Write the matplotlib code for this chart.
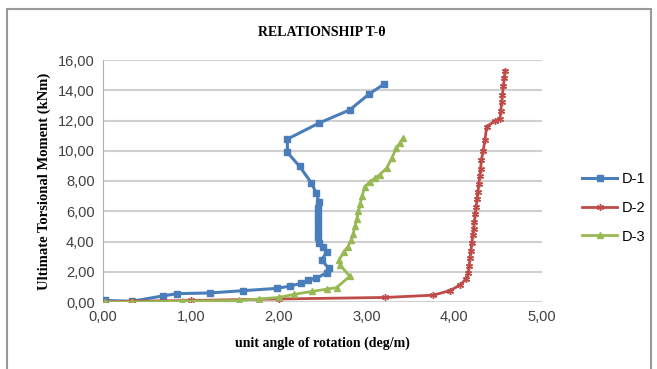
import matplotlib.pyplot as plt
from matplotlib.patches import Rectangle

# --- data ---
d1_x = [0.02, 0.33, 0.68, 0.84, 1.22, 1.60, 1.98, 2.13, 2.26, 2.34, 2.43, 2.55, 2.57, 2.49,
        2.55, 2.51, 2.46, 2.45, 2.45, 2.45, 2.45, 2.45, 2.45, 2.46, 2.43, 2.37, 2.24, 2.10,
        2.10, 2.46, 2.81, 3.03, 3.20]
d1_y = [0.10, 0.05, 0.40, 0.55, 0.60, 0.75, 0.90, 1.05, 1.24, 1.46, 1.57, 1.94, 2.23, 2.78,
        3.33, 3.66, 3.90, 4.30, 4.60, 5.00, 5.40, 5.80, 6.20, 6.60, 7.20, 7.90, 8.96, 9.89,
        10.77, 11.83, 12.70, 13.75, 14.40]

d2_x = [0.02, 0.33, 1.00, 2.00, 3.21, 3.76, 3.95, 4.07, 4.13, 4.16, 4.17, 4.18, 4.19, 4.20,
        4.21, 4.22, 4.23, 4.24, 4.25, 4.26, 4.27, 4.28, 4.29, 4.30, 4.31, 4.33, 4.35, 4.37,
        4.46, 4.52, 4.53, 4.54, 4.55, 4.56, 4.57, 4.58]
d2_y = [0.00, 0.05, 0.10, 0.20, 0.30, 0.45, 0.75, 1.13, 1.50, 1.90, 2.40, 2.90, 3.40, 3.90,
        4.40, 4.80, 5.30, 5.80, 6.30, 6.80, 7.30, 7.80, 8.30, 8.80, 9.40, 10.00, 10.70, 11.60,
        11.95, 12.10, 12.60, 13.20, 13.70, 14.30, 14.80, 15.30]

d3_x = [0.02, 0.33, 0.90, 1.55, 1.78, 2.00, 2.17, 2.38, 2.55, 2.66, 2.81, 2.70, 2.69, 2.74,
        2.79, 2.83, 2.85, 2.87, 2.89, 2.91, 2.93, 2.95, 2.98, 3.04, 3.10, 3.15, 3.23, 3.29,
        3.34, 3.38, 3.42]
d3_y = [0.00, 0.00, 0.05, 0.10, 0.20, 0.30, 0.50, 0.70, 0.85, 0.95, 1.70, 2.45, 2.80, 3.30,
        3.66, 4.10, 4.50, 5.00, 5.50, 6.00, 6.50, 7.00, 7.60, 7.95, 8.20, 8.40, 8.85, 9.50,
        10.20, 10.50, 10.84]

x_ticks = [0, 1, 2, 3, 4, 5]
x_tick_labels = ['0,00', '1,00', '2,00', '3,00', '4,00', '5,00']
y_ticks = [0, 2, 4, 6, 8, 10, 12, 14, 16]
y_tick_labels = ['0,00', '2,00', '4,00', '6,00', '8,00', '10,00', '12,00', '14,00', '16,00']

plt.rcParams['font.family'] = 'Liberation Sans'

fig = plt.figure(figsize=(6.57, 3.69), dpi=100)
ax = fig.add_axes([103 / 657, 1 - 302 / 369, (542 - 103) / 657, (302 - 60) / 369])

# outer chart frame
fig.patches.append(Rectangle((7 / 657, -0.02), (651 - 7) / 657, 1.02 - 9 / 369,
                             transform=fig.transFigure, fill=False,
                             edgecolor='#9a9a9a', lw=1.5))

ax.plot(d1_x, d1_y, color='#4a7ebb', lw=2.2, marker='s', ms=5, label='D-1', zorder=3)
ax.plot(d2_x, d2_y, color='#be4b48', lw=2.0, marker=(6, 2, 0), ms=5, mew=1.0, label='D-2', zorder=3)
ax.plot(d3_x, d3_y, color='#98b954', lw=2.0, marker='^', ms=5, label='D-3', zorder=3)

ax.set_xlim(0, 5)
ax.set_ylim(0, 16)
ax.set_xticks(x_ticks)
ax.set_xticklabels(x_tick_labels)
ax.set_yticks(y_ticks)
ax.set_yticklabels(y_tick_labels)
ax.tick_params(labelsize=10.5, colors='#404040', length=0, pad=6)
ax.grid(axis='y', color='#d0d0d0', lw=1.5)
ax.set_axisbelow(True)
for s in ['top', 'right', 'bottom']:
    ax.spines[s].set_visible(False)
ax.spines['left'].set_color('#b0b0b0')

ax.set_xlabel('unit angle of rotation (deg/m)', family='Liberation Serif',
              fontweight='bold', fontsize=10, labelpad=9)
ax.set_ylabel('Ultimate Torsional Moment (kNm)', family='Liberation Serif',
              fontweight='bold', fontsize=10.5, labelpad=5)
fig.text(322 / 657, 1 - 32 / 369, 'RELATIONSHIP T-θ', family='Liberation Serif',
         fontweight='bold', fontsize=10, ha='center', va='center')

fig.legend(loc='center left', bbox_to_anchor=(582 / 657, 1 - 208 / 369), frameon=False,
           fontsize=10.5, handlelength=2.4, handletextpad=0.3, labelspacing=1.0,
           borderaxespad=0, borderpad=0)

fig.savefig('out.png', dpi=100)
